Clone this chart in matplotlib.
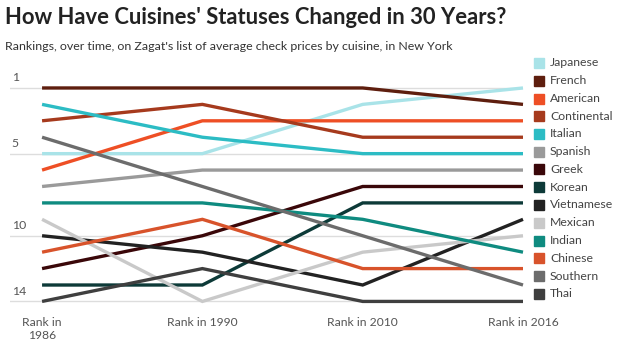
import matplotlib.pyplot as plt
from matplotlib.patches import Rectangle

years = ["Rank in\n1986", "Rank in 1990", "Rank in 2010", "Rank in 2016"]

cuisines = ["Japanese", "French", "American", "Continental", "Italian", "Spanish", "Greek",
            "Korean", "Vietnamese", "Mexican", "Indian", "Chinese", "Southern", "Thai"]

japanese = [5, 5, 2, 1]
french = [1, 1, 1, 2]
american = [6, 3, 3, 3]
continental = [3, 2, 4, 4]
italian = [2, 4, 5, 5]
spanish = [7, 6, 6, 6]
greek = [12, 10, 7, 7]
korean = [13, 13, 8, 8]
vietnamese = [10, 11, 13, 9]
mexican = [9, 14, 11, 10]
indian = [8, 8, 9, 11]
chinese = [11, 9, 12, 12]
southern = [4, 7, 10, 13]
thai = [14, 12, 14, 14]

ranks = [japanese, french, american, continental, italian, spanish, greek,
         korean, vietnamese, mexican, indian, chinese, southern, thai]

colors = ["#a9e3e8", "#5e1e0e", "#ee4f25", "#a63a1d", "#2cbcc4", "#9a9a9a", "#3a0709",
          "#0d3a38", "#222222", "#c9c9c9", "#0f8b80", "#d8532b", "#6c6c6c", "#3f3f3f"]

grid_ranks = [1, 5, 10, 14]

plt.rcParams['font.family'] = ['Lato', 'DejaVu Sans']

fig = plt.figure(figsize=(6.3, 3.48), dpi=100)
W, H = 630, 348

# axes placed in pixel terms: x from 10 to 523, y from 81 to 308
ax = fig.add_axes([10 / W, (H - 308) / H, 513 / W, (308 - 81.4) / H])
ax.set_xlim(-0.2, 3.0)
ax.set_ylim(14.4, 0.6)
ax.axis("off")

for r in grid_ranks:
    ax.axhline(r, color="#dddddd", lw=1, zorder=1)
    ax.text(-0.19, r - 0.3, str(r), fontsize=8.8, color="#555555", ha="left", va="bottom")

x = list(range(len(years)))
for vals, c in zip(ranks, colors):
    ax.plot(x, vals, color=c, lw=2.4, solid_joinstyle="miter", solid_capstyle="butt",
            zorder=2, clip_on=False)

for xi, lab in zip(x, years):
    ax.text(xi, 14.95, lab, fontsize=8.7, color="#555555", ha="center", va="top",
            linespacing=1.2)

fig.text(5 / W, 1 - 17 / H, "How Have Cuisines' Statuses Changed in 30 Years?",
         fontsize=15.8, fontweight="bold", color="#222222", ha="left", va="center")
fig.text(5 / W, 1 - 47 / H,
         "Rankings, over time, on Zagat's list of average check prices by cuisine, in New York",
         fontsize=8.9, color="#333333", ha="left", va="center")

# legend built by hand as a column of colour squares
for i, (name, c) in enumerate(zip(cuisines, colors)):
    yc = 63 + i * 17.75
    fig.patches.append(Rectangle((534 / W, 1 - (yc + 5) / H), 10 / W, 10 / H,
                                 transform=fig.transFigure, color=c))
    fig.text(550 / W, 1 - yc / H, name, fontsize=8.8, color="#444444",
             ha="left", va="center")

fig.savefig("out.png", dpi=100)
